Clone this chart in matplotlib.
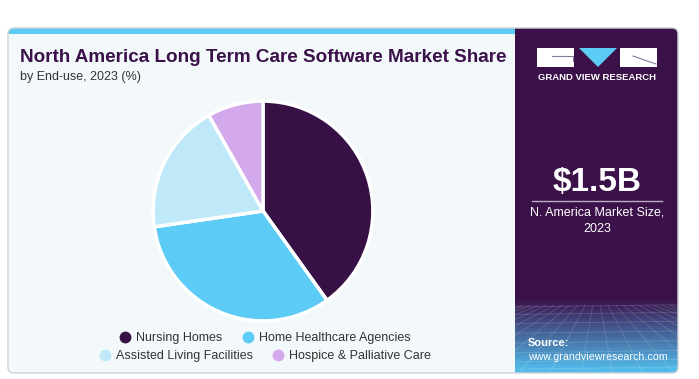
import numpy as np
import matplotlib.pyplot as plt
from matplotlib.patches import FancyBboxPatch, Rectangle, Polygon
from matplotlib.lines import Line2D
from matplotlib.transforms import IdentityTransform

W, H = 699, 379

segments = ["Nursing Homes", "Home Healthcare Agencies",
            "Assisted Living Facilities", "Hospice & Palliative Care"]
shares = [40.1, 32.6, 19.1, 8.2]
colors = ["#371146", "#5ccbf5", "#bfe9f8", "#d4a9ec"]

title = "North America Long Term Care Software Market Share"
subtitle = "by End-use, 2023 (%)"
market_size = "$1.5B"
market_label = "N. America Market Size,\n2023"

PURPLE = "#3a1149"
BG = "#f3f8fb"

plt.rcParams['font.family'] = ['Liberation Sans', 'DejaVu Sans']

fig = plt.figure(figsize=(W / 100, H / 100), dpi=100)
fig.patch.set_facecolor('white')
px = IdentityTransform()


def box(x0, y0, x1, y1, **kw):
    # pixel box given with top-left origin
    return Rectangle((x0, H - y1), x1 - x0, y1 - y0, transform=px, **kw)


# card
card = FancyBboxPatch((8, H - 373), 670, 345, boxstyle="round,pad=0,rounding_size=6",
                      transform=px, facecolor=BG, edgecolor='none', zorder=0)
fig.add_artist(card)

strip = box(8, 28, 515, 34, facecolor="#5ccbf5", edgecolor='none', zorder=1)
fig.add_artist(strip)
strip.set_clip_path(card)

panel = box(515, 28, 678, 373, facecolor=PURPLE, edgecolor='none', zorder=1)
fig.add_artist(panel)
panel.set_clip_path(card)

# gradient at the bottom of the panel
gax = fig.add_axes([515 / W, (H - 373) / H, 163 / W, 75 / H], zorder=2)
gax.set_axis_off()
t = np.linspace(0, 1, 100)[:, None]
top = np.array([0x3a, 0x11, 0x49]) / 255
bot = np.array([0x52, 0xba, 0xea]) / 255
grad = top + (bot - top) * np.clip(t * 1.05, 0, 1)[..., None]
grad = np.repeat(grad, 2, axis=1)
im = gax.imshow(grad, extent=[0, 1, 0, 1], aspect='auto', origin='upper')
gax.set_xlim(0, 1)
gax.set_ylim(0, 1)
for k in np.linspace(-1.5, 2.5, 22):
    ln, = gax.plot([0.5 + (k - 0.5) * 0.25, k], [0.9, 0], color='white', alpha=0.16, lw=0.6)
    ln.set_clip_path(card)
for yy in [0.05, 0.15, 0.27, 0.4, 0.53, 0.66, 0.78, 0.88]:
    ln, = gax.plot([0, 1], [yy, yy + 0.03], color='white', alpha=0.16, lw=0.6)
    ln.set_clip_path(card)
im.set_clip_path(card)

# card outline
outline = FancyBboxPatch((8, H - 373), 670, 345, boxstyle="round,pad=0,rounding_size=6",
                         transform=px, facecolor='none', edgecolor='#cfd3d6', lw=1, zorder=5)
fig.add_artist(outline)

# title
fig.text(20, H - 62, title, transform=px, fontsize=13.6, fontweight='bold',
         color=PURPLE, va='baseline')
fig.text(20, H - 80, subtitle, transform=px, fontsize=9, color='#333333',
         va='baseline')

# logo
fig.add_artist(box(537, 48, 574, 67, facecolor='white', edgecolor='none', zorder=3))
fig.add_artist(Line2D([552, 573, 573], [H - 56, H - 56, H - 61], transform=px,
                      color='#8a7a96', lw=0.8, zorder=4))
fig.add_artist(Polygon([(579, H - 48), (617, H - 48), (598, H - 67)], closed=True,
                       transform=px, facecolor='#5ccbf5', edgecolor='none', zorder=3))
fig.add_artist(box(620, 48, 657, 67, facecolor='white', edgecolor='none', zorder=3))
fig.add_artist(Line2D([633, 656], [H - 56, H - 64], transform=px,
                      color='#8a7a96', lw=0.8, zorder=4))
fig.text(597, H - 78, "GRAND VIEW RESEARCH", transform=px, fontsize=6.8,
         fontweight='bold', color='white', ha='center', va='center', zorder=4)

# market size
fig.text(597, H - 183, market_size, transform=px, fontsize=24, fontweight='bold',
         color='white', ha='center', va='center', zorder=4)
fig.add_artist(Line2D([532, 662], [H - 200.5, H - 200.5], transform=px,
                      color='#b9aebf', lw=1, zorder=4))
fig.text(597, H - 221, market_label, transform=px, fontsize=9, color='white',
         ha='center', va='center', linespacing=1.45, zorder=4)

# source
fig.text(528, H - 343, "Source:", transform=px, fontsize=8, fontweight='bold',
         color='white', va='center', zorder=6)
fig.text(528, H - 357, "www.grandviewresearch.com", transform=px, fontsize=7.7,
         color='white', va='center', zorder=6)

# pie
ax = fig.add_axes([152 / W, (H - 322) / H, 222 / W, 222 / H], zorder=3)
ax.pie(shares, colors=colors, startangle=90, counterclock=False, radius=1,
       wedgeprops=dict(edgecolor='white', linewidth=2.5))
ax.set_xlim(-1.01, 1.01)
ax.set_ylim(-1.01, 1.01)
ax.set_aspect('equal')

# legend, two centred rows
handles = [Line2D([], [], marker='o', linestyle='', color=c, markersize=7.5) for c in colors]
for row, yc in [(0, 338), (1, 356)]:
    idx = [2 * row, 2 * row + 1]
    fig.legend([handles[i] for i in idx], [segments[i] for i in idx], ncol=2,
               loc='center', bbox_to_anchor=(264 / W, 1 - yc / H), frameon=False,
               fontsize=9, handletextpad=0.3, columnspacing=1.4, handlelength=1.2,
               borderpad=0, labelcolor='#333333')

fig.savefig("out.png", dpi=100)
